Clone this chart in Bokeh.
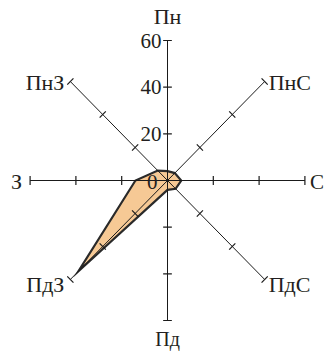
import math
from bokeh.plotting import figure
from bokeh.models import ColumnDataSource, Range1d
from bokeh.embed import file_html
from bokeh.resources import INLINE

directions = ["Пн", "ПнС", "С", "ПдС", "Пд", "ПдЗ", "З", "ПнЗ"]
angles_deg = [90, 45, 0, -45, -90, -135, 180, 135]
values = [4, 4.5, 6, 5, 4, 55, 14, 6]
tick_values = [20, 40, 60]
tick_labels = ["20", "40", "60"]
axis_max = 60

TEXT = "#231f20"
FONT = "Liberation Serif"

W, H = 325, 354
CX, CY = 167, 180
SX, SY = 2.29, 2.333

p = figure(width=W, height=H, output_backend="svg", toolbar_location=None,
           x_range=Range1d(-CX / SX, (W - CX) / SX),
           y_range=Range1d(-(H - CY) / SY, CY / SY),
           min_border=0)
p.xaxis.visible = False
p.yaxis.visible = False
p.grid.visible = False
p.outline_line_color = None
p.background_fill_color = "white"
p.border_fill_color = "white"

rad = [math.radians(a) for a in angles_deg]

# data polygon
px = [v * math.cos(r) for v, r in zip(values, rad)]
py = [v * math.sin(r) for v, r in zip(values, rad)]
p.patch(px, py, fill_color="#F6C995", line_color="#2a2a2a", line_width=2.2,
        line_join="miter")

# axes
ex = [axis_max * math.cos(r) for r in rad]
ey = [axis_max * math.sin(r) for r in rad]
p.segment(x0=[0] * len(rad), y0=[0] * len(rad), x1=ex, y1=ey,
          line_color="#1a1a1a", line_width=1)

# ticks
h = 1.9
tx0, ty0, tx1, ty1 = [], [], [], []
for r in rad:
    for t in tick_values:
        cx, cy = t * math.cos(r), t * math.sin(r)
        nx, ny = -math.sin(r), math.cos(r)
        tx0.append(cx - h * nx); ty0.append(cy - h * ny)
        tx1.append(cx + h * nx); ty1.append(cy + h * ny)
p.segment(x0=tx0, y0=ty0, x1=tx1, y1=ty1, line_color="#1a1a1a", line_width=1.2)

# tick labels on north axis
p.text(x=[0] * len(tick_values), y=tick_values, text=tick_labels,
       text_align="right", text_baseline="middle", x_offset=-6,
       text_font_size="21px", text_font={"value": FONT}, text_color=TEXT)
p.text(x=[0], y=[0], text=["0"], text_align="right", text_baseline="middle",
       x_offset=-10, y_offset=1, text_font_size="21px", text_font={"value": FONT},
       text_color=TEXT)

# direction labels
aligns, offx, offy, bases, sizes = [], [], [], [], []
for a in angles_deg:
    c = math.cos(math.radians(a)); s = math.sin(math.radians(a))
    if abs(c) < 1e-6:
        aligns.append("center"); offx.append(0)
        if s > 0:
            bases.append("bottom"); offy.append(-12); sizes.append("22px")
        else:
            bases.append("top"); offy.append(8); sizes.append("20px")
    elif abs(s) < 1e-6:
        bases.append("middle"); offy.append(1)
        if c > 0:
            aligns.append("left"); offx.append(5); sizes.append("21px")
        else:
            aligns.append("right"); offx.append(-8); sizes.append("22px")
    else:
        bases.append("middle"); sizes.append("22px")
        offy.append(1 if s > 0 else 5)
        if c > 0:
            aligns.append("left"); offx.append(4)
        else:
            aligns.append("right"); offx.append(-6)

src = ColumnDataSource(dict(x=ex, y=ey, text=directions, align=aligns,
                            ox=offx, oy=offy, base=bases, size=sizes))
p.text(x="x", y="y", text="text", source=src, text_align="align",
       text_baseline="base", x_offset="ox", y_offset="oy",
       text_font_size="size", text_font={"value": FONT}, text_color=TEXT)

open("out.html", "w").write(file_html(p, INLINE))
